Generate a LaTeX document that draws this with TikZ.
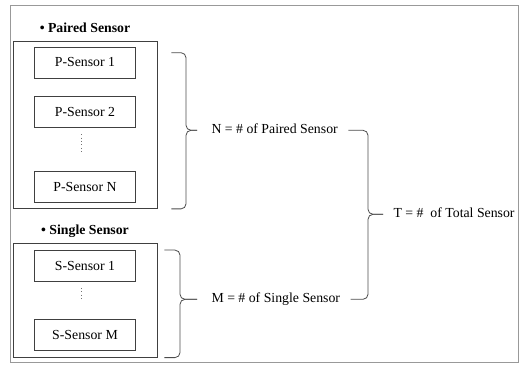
\documentclass[tikz,border=0pt]{standalone}
\usepackage{fontspec}
\setmainfont{Liberation Serif}
\usetikzlibrary{positioning,fit}

\begin{document}
\begin{tikzpicture}[
x=1pt, y=1pt,
node distance=18pt and 14pt,
font=\fontsize{13.8}{16}\selectfont,
sbox/.style={draw=black!75, line width=0.8pt, minimum width=101pt, minimum height=31pt, inner sep=2pt},
grp/.style={draw=black!75, line width=0.8pt, inner xsep=21pt, inner ysep=5.5pt},
grplabel/.style={font=\fontsize{13.8}{16}\selectfont\bfseries, anchor=base},
countlabel/.style={anchor=west, text height=9.5pt, text depth=3pt},
brc/.style={draw=black!70, line width=0.8pt, rounded corners=5pt},
vdots/.style={draw=black!55, line width=0.8pt, dash pattern=on 0.8pt off 2.6pt}
]
\useasboundingbox (0,0) rectangle (519,364);
\draw[black!40, line width=1pt] (10,2) rectangle (518,358);

% paired sensors
\node[sbox] (p1) at (85,301.5) {P-Sensor 1};
\node[sbox, below=of p1] (p2) {P-Sensor 2};
\node[sbox, below=43pt of p2] (pn) {P-Sensor N};
\path (p2.south) ++(-4pt,-6pt) coordinate (pd1);
\path (pn.north) ++(-4pt,19pt) coordinate (pd2);
\draw[vdots] (pd1) -- (pd2);
\node[grp, fit=(p1)(pn)] (pgrp) {};
\node[grplabel] (plab) at ([yshift=8.5pt]pgrp.north) {• Paired Sensor};

% single sensors
\node[sbox] (s1) at (85,98) {S-Sensor 1};
\node[sbox, below=37pt of s1] (sm) {S-Sensor M};
\path (s1.south) ++(-4pt,-6pt) coordinate (sd1);
\path (sm.north) ++(-4pt,18pt) coordinate (sd2);
\draw[vdots] (sd1) -- (sd2);
\node[grp, fit=(s1)(sm), inner ysep=6.5pt] (sgrp) {};
\node[grplabel] (slab) at ([yshift=8.5pt]sgrp.north) {• Single Sensor};

% counts
\node[countlabel] (nlab) at (208,233.7) {N = \# of Paired Sensor};
\node[countlabel] (mlab) at (208,64.7) {M = \# of Single Sensor};
\node[countlabel] (tlab) at (390,149.7) {T = \#~ of Total Sensor};

% braces
\path (pgrp.north east) ++(14pt,-12pt) coordinate (b1t);
\path (pgrp.south east) ++(14pt,0) coordinate (b1b);
\draw[brc] (b1t) -| ([xshift=-22pt]nlab.west) -- ([xshift=-11pt]nlab.west);
\draw[brc] (b1b) -| ([xshift=-22pt]nlab.west) -- ([xshift=-11pt]nlab.west);

\path (sgrp.east |- s1.north) ++(7pt,0) coordinate (b2t);
\path (sgrp.south east) ++(7pt,0) coordinate (b2b);
\draw[brc] (b2t) -| ([xshift=-28pt]mlab.west) -- ([xshift=-11pt]mlab.west);
\draw[brc] (b2b) -| ([xshift=-28pt]mlab.west) -- ([xshift=-11pt]mlab.west);

\draw[brc] ([xshift=7pt]nlab.east) -| ([xshift=-22pt]tlab.west) -- ([xshift=-7pt]tlab.west);
\draw[brc] ([xshift=7pt]mlab.east) -| ([xshift=-22pt]tlab.west) -- ([xshift=-7pt]tlab.west);
\end{tikzpicture}
\end{document}
